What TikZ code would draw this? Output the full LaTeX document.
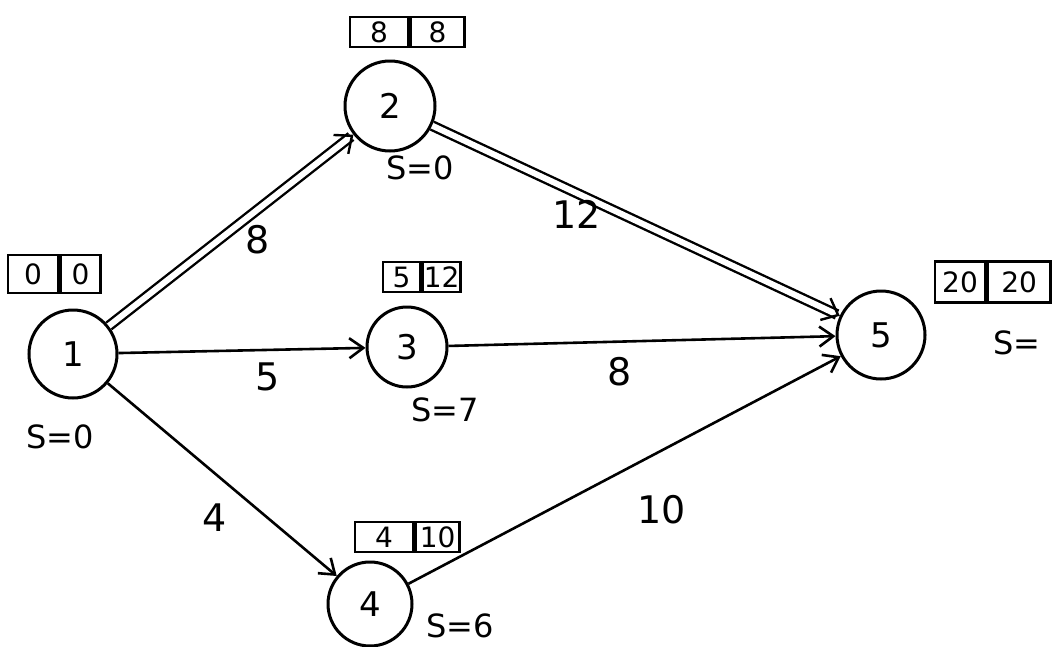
\documentclass[tikz,border=0pt]{standalone}
\usepackage{fontspec}
\setmainfont{DejaVu Sans}
\usetikzlibrary{arrows.meta}
\begin{document}
\begin{tikzpicture}[x=1pt,y=-1pt,
 ev/.style={circle,draw,line width=3pt,minimum size=88pt,inner sep=0pt,font=\fontsize{34}{36}\selectfont},
 cell/.style={draw,line width=2.6pt,inner sep=0pt,font=\fontsize{28}{30}\selectfont},
 lab/.style={font=\fontsize{38}{40}\selectfont},
 sl/.style={font=\fontsize{32}{34}\selectfont},
 act/.style={line width=2.6pt,-{Straight Barb[length=14pt,width=20pt]}},
 crit/.style={line width=2.4pt,double,double distance=6pt,-{Straight Barb[length=14pt,width=24pt]}}]
\useasboundingbox (0,0) rectangle (1052,646);
% events
\node[ev] (n1) at (73,354) {1};
\node[ev,minimum size=90pt] (n2) at (390,106) {2};
\node[ev,minimum size=80pt] (n3) at (407,347) {3};
\node[ev,minimum size=84pt] (n4) at (370,604) {4};
\node[ev] (n5) at (881,335) {5};
% boxes
\node[cell,minimum width=50pt,minimum height=38pt] (b1a) at (33,274) {0};
\node[cell,minimum width=40pt,minimum height=38pt,anchor=west] (b1b) at (b1a.east) {0};
\node[cell,minimum width=58pt,minimum height=30pt] (b2a) at (379,32) {8};
\node[cell,minimum width=54pt,minimum height=30pt,anchor=west] (b2b) at (b2a.east) {8};
\node[cell,minimum width=37pt,minimum height=30pt] (b3a) at (401.5,277) {5};
\node[cell,minimum width=38pt,minimum height=30pt,anchor=west] (b3b) at (b3a.east) {12};
\node[cell,minimum width=58pt,minimum height=30pt] (b4a) at (384,537) {4};
\node[cell,minimum width=44pt,minimum height=30pt,anchor=west] (b4b) at (b4a.east) {10};
\node[cell,minimum width=50pt,minimum height=41pt] (b5a) at (960,282) {20};
\node[cell,minimum width=63pt,minimum height=41pt,anchor=west] (b5b) at (b5a.east) {20};
% slacks
\node[sl] (s1) at (60,437) {S=0};
\node[sl] (s2) at (420,168) {S=0};
\node[sl] (s3) at (445,410) {S=7};
\node[sl] (s4) at (460,626) {S=6};
\node[sl,anchor=west] (s5) at (990,343) {S=};
% activities
\draw[crit] (n1) -- (n2);
\draw[crit] (n2) -- (n5);
\draw[act] (n1) -- (n3);
\draw[act] (n3) -- (n5);
\draw[act] (n1) -- (n4);
\draw[act] (n4) -- (n5);
% durations
\node[lab] (d12) at (258,240) {8};
\node[lab] (d25) at (577,214) {12};
\node[lab] (d13) at (268,377) {5};
\node[lab] (d35) at (620,372) {8};
\node[lab] (d14) at (215,518) {4};
\node[lab] (d45) at (662,510) {10};
\end{tikzpicture}
\end{document}
